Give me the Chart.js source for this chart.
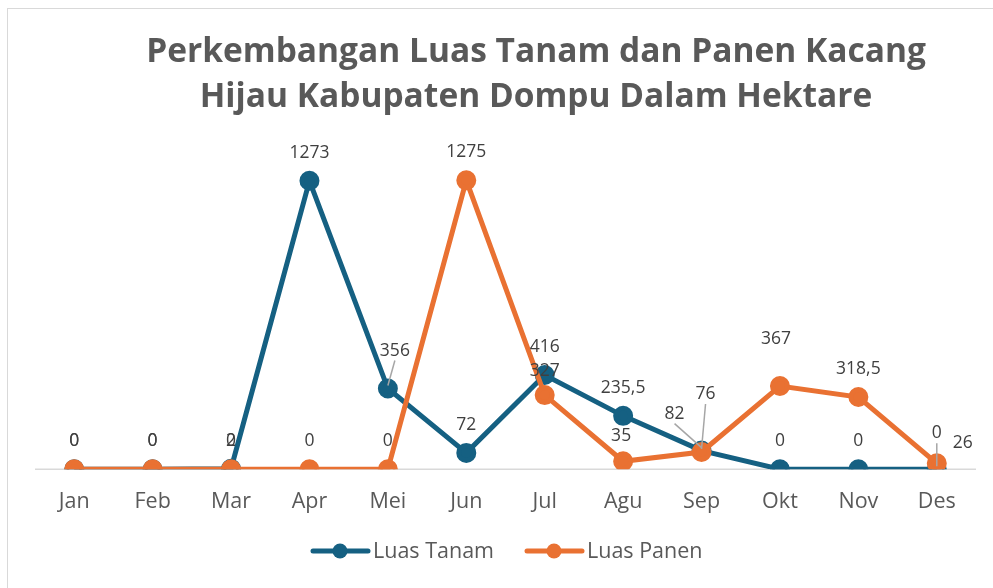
<!DOCTYPE html>
<html>
<head>
<meta charset="utf-8">
<script src="https://cdn.jsdelivr.net/npm/chart.js@4.4.1/dist/chart.umd.min.js"></script>
<style>
    html, body { margin: 0; padding: 0; background: #ffffff; }
    #wrap { position: relative; width: 993px; height: 588px; }
    #frame { position: absolute; left: 7px; top: 8px; width: 1000px; height: 600px; border: 1px solid #d9d9d9; box-sizing: border-box; }
</style>
</head>
<body>
<div id="wrap">
    <div id="frame"></div>
    <canvas id="chart" width="993" height="588"></canvas>
</div>
<script>
// Chart data
const months = ['Jan', 'Feb', 'Mar', 'Apr', 'Mei', 'Jun', 'Jul', 'Agu', 'Sep', 'Okt', 'Nov', 'Des'];
const luasTanam = [0, 0, 2, 1273, 356, 72, 416, 235.5, 82, 0, 0, 0];
const luasPanen = [0, 0, 0, 0, 0, 1275, 327, 35, 76, 367, 318.5, 26];
const titleLines = ['Perkembangan Luas Tanam dan Panen Kacang', 'Hijau Kabupaten Dompu Dalam Hektare'];

const BLUE = '#156082';
const ORANGE = '#e97132';
const FONT = '"Open Sans", "Liberation Sans", sans-serif';

// Label placement tweaks (dx, dy from the point, leader line flag)
const labelTweaks = {
    0: { 4: [7, -38, true], 8: [-27, -37, true], 11: [0, -36, true] },
    1: { 6: [0, -24], 7: [-2, -25], 8: [4, -58, true], 9: [-4, -47], 11: [26, -20] }
};

function fmt(v) {
    return String(v).replace('.', ',');
}

const decorPlugin = {
    id: 'decor',
    beforeDatasetsDraw(chart) {
        const { ctx, chartArea, scales } = chart;
        const y0 = scales.y.getPixelForValue(0);
        ctx.save();
        ctx.strokeStyle = '#d9d9d9';
        ctx.lineWidth = 1.5;
        ctx.beginPath();
        ctx.moveTo(chartArea.left, y0);
        ctx.lineTo(chartArea.right, y0);
        ctx.stroke();
        ctx.restore();
    },
    afterDatasetsDraw(chart) {
        const { ctx } = chart;
        ctx.save();
        ctx.font = '17.5px ' + FONT;
        ctx.fillStyle = '#404040';
        ctx.textAlign = 'center';
        ctx.textBaseline = 'middle';
        chart.data.datasets.forEach((ds, di) => {
            const meta = chart.getDatasetMeta(di);
            meta.data.forEach((pt, i) => {
                const t = (labelTweaks[di] && labelTweaks[di][i]) || [0, -28];
                const lx = pt.x + t[0];
                const ly = pt.y + t[1];
                if (t[2]) {
                    ctx.strokeStyle = '#a6a6a6';
                    ctx.lineWidth = 1.5;
                    ctx.beginPath();
                    ctx.moveTo(lx, ly + 10);
                    ctx.lineTo(pt.x, pt.y - 3);
                    ctx.stroke();
                }
                ctx.fillText(fmt(ds.data[i]), lx, ly);
            });
        });
        ctx.restore();
    },
    afterDraw(chart) {
        const { ctx } = chart;
        ctx.save();
        // Title
        ctx.font = 'bold 33.5px ' + FONT;
        ctx.fillStyle = '#595959';
        ctx.textAlign = 'center';
        ctx.textBaseline = 'middle';
        ctx.fillText(titleLines[0], 536, 52);
        ctx.fillText(titleLines[1], 536, 97);

        // Legend
        const items = [
            { label: 'Luas Tanam', color: BLUE, x: 313 },
            { label: 'Luas Panen', color: ORANGE, x: 527 }
        ];
        ctx.font = '21.5px ' + FONT;
        ctx.textAlign = 'left';
        items.forEach(it => {
            const y = 551;
            ctx.strokeStyle = it.color;
            ctx.lineWidth = 5;
            ctx.lineCap = 'round';
            ctx.beginPath();
            ctx.moveTo(it.x, y);
            ctx.lineTo(it.x + 55, y);
            ctx.stroke();
            ctx.fillStyle = it.color;
            ctx.beginPath();
            ctx.arc(it.x + 27, y, 7.5, 0, Math.PI * 2);
            ctx.fill();
            ctx.fillStyle = '#595959';
            ctx.fillText(it.label, it.x + 60, y + 1);
        });
        ctx.restore();
    }
};

new Chart(document.getElementById('chart'), {
    type: 'line',
    data: {
        labels: months,
        datasets: [
            {
                label: 'Luas Tanam',
                data: luasTanam,
                order: 1,
                borderColor: BLUE,
                backgroundColor: BLUE,
                borderWidth: 5,
                pointRadius: 7.5,
                pointHoverRadius: 7.5,
                tension: 0
            },
            {
                label: 'Luas Panen',
                data: luasPanen,
                order: 0,
                borderColor: ORANGE,
                backgroundColor: ORANGE,
                borderWidth: 5,
                pointRadius: 7.5,
                pointHoverRadius: 7.5,
                tension: 0
            }
        ]
    },
    options: {
        responsive: false,
        animation: false,
        layout: {
            padding: { left: 35, right: 17, top: 152, bottom: 53 }
        },
        plugins: {
            legend: { display: false },
            title: { display: false },
            tooltip: { enabled: false }
        },
        scales: {
            x: {
                offset: true,
                grid: { display: false, drawTicks: false },
                border: { display: false },
                ticks: {
                    color: '#595959',
                    font: { size: 21.5, family: FONT },
                    padding: 20
                }
            },
            y: {
                display: false,
                min: 0,
                max: 1400
            }
        }
    },
    plugins: [decorPlugin]
});
</script>
</body>
</html>
